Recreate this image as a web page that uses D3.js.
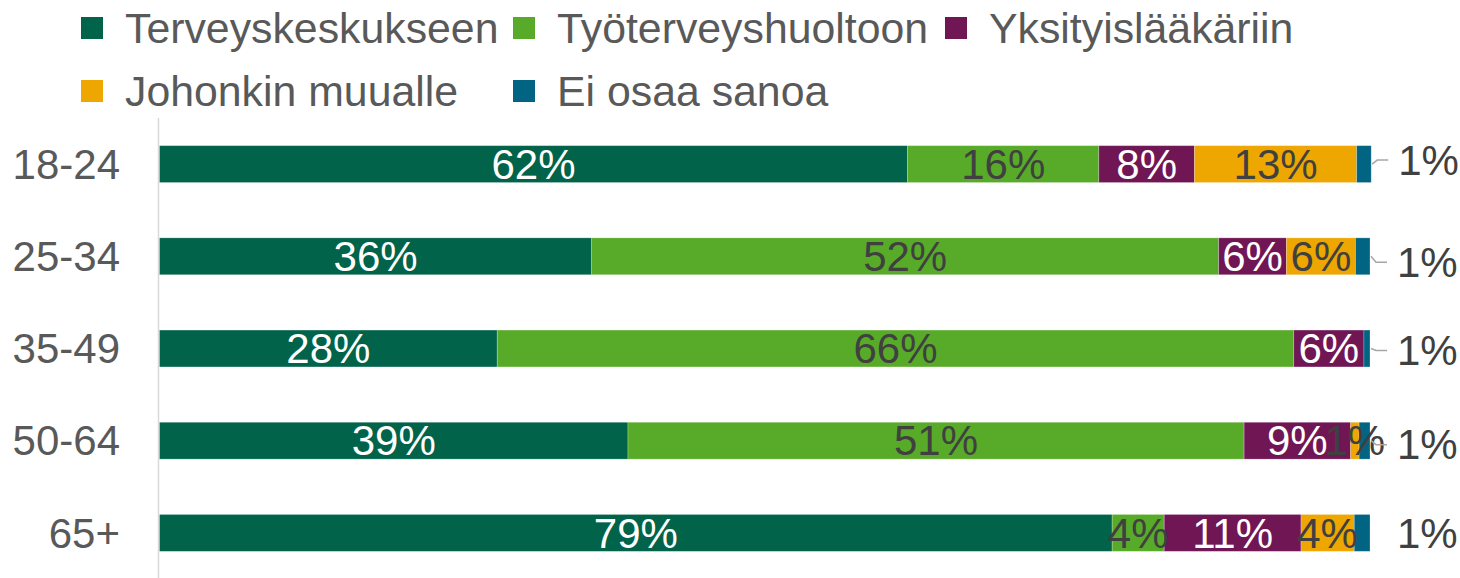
<!DOCTYPE html>
<html>
<head>
<meta charset="utf-8">
<script src="https://cdn.jsdelivr.net/npm/d3@7"></script>
<style>
  html, body { margin: 0; padding: 0; background: #fff; }
  svg { display: block; font-family: "Liberation Sans", Arial, sans-serif; }
</style>
</head>
<body>
<div id="chart"></div>
<script>
// categories (age groups) and series
const ageGroups = ["18-24", "25-34", "35-49", "50-64", "65+"];
const seriesNames = ["Terveyskeskukseen", "Työterveyshuoltoon", "Yksityislääkäriin", "Johonkin muualle", "Ei osaa sanoa"];

// shares in %, one array per series, in ageGroups order
const terveyskeskus = [61.8, 35.7, 27.9, 38.7, 78.7];
const tyoterveys    = [15.8, 51.8, 65.8, 50.9, 4.3];
const yksityinen    = [7.9, 5.6, 5.8, 8.8, 11.3];
const muualle       = [13.4, 5.7, 0, 0.7, 4.4];
const eiOsaa        = [1.2, 1.2, 0.5, 0.9, 1.3];

const colors = ["#00634a", "#58ab28", "#701655", "#eea600", "#006482"];
const labelColors = ["#fff", "#404040", "#fff", "#404040", "#404040"];

// build rows for d3.stack
const seriesValues = [terveyskeskus, tyoterveys, yksityinen, muualle, eiOsaa];
const rows = ageGroups.map((g, i) => {
  const r = { group: g };
  seriesNames.forEach((s, j) => { r[s] = seriesValues[j][i]; });
  return r;
});

const W = 1460, H = 578;
const fontSize = 42;
const textGray = "#595959";

const svg = d3.select("#chart").append("svg")
  .attr("width", W)
  .attr("height", H);

// scales
const x = d3.scaleLinear().domain([0, 100]).range([159.5, 1370]);
const y = d3.scaleBand()
  .domain(ageGroups)
  .range([118, 579])
  .paddingInner(0.6)
  .paddingOuter(0.3);

const stacked = d3.stack().keys(seriesNames)(rows);

// vertical axis line
svg.append("line")
  .attr("x1", 158.5).attr("x2", 158.5)
  .attr("y1", 118).attr("y2", H)
  .attr("stroke", "#d9d9d9")
  .attr("stroke-width", 1.5);

// category labels
svg.selectAll(".cat")
  .data(ageGroups)
  .enter()
  .append("text")
  .attr("class", "cat")
  .attr("x", 120)
  .attr("y", d => y(d) + y.bandwidth() / 2)
  .attr("dy", "0.35em")
  .attr("text-anchor", "end")
  .attr("fill", textGray)
  .style("font-size", fontSize + "px")
  .text(d => d);

// bar segments
const layers = svg.selectAll(".layer")
  .data(stacked)
  .enter()
  .append("g")
  .attr("class", "layer")
  .attr("fill", (d, i) => colors[i]);

layers.selectAll("rect")
  .data(d => d)
  .enter()
  .append("rect")
  .attr("x", d => x(d[0]))
  .attr("y", d => y(d.data.group))
  .attr("width", d => x(d[1]) - x(d[0]))
  .attr("height", y.bandwidth())
  .attr("stroke", "#fff")
  .attr("stroke-opacity", 0.3)
  .attr("stroke-width", 0.8);

// labels inside bars (all series except the last)
stacked.slice(0, 4).forEach((layer, i) => {
  svg.append("g")
    .selectAll("text")
    .data(layer.filter(d => d[1] - d[0] > 0))
    .enter()
    .append("text")
    .attr("x", d => (x(d[0]) + x(d[1])) / 2)
    .attr("y", d => y(d.data.group) + y.bandwidth() / 2)
    .attr("dy", "0.35em")
    .attr("text-anchor", "middle")
    .attr("fill", labelColors[i])
    .style("font-size", fontSize + "px")
    .text(d => Math.round(d[1] - d[0]) + "%");
});

// "Ei osaa sanoa" labels outside the bars with leader lines
const labelShift = [-4, 6, 2, 4, 0];
const last = stacked[4];

svg.append("g")
  .selectAll("path")
  .data(last.filter((d, i) => labelShift[i] !== 0))
  .enter()
  .append("path")
  .attr("d", d => {
    const i = ageGroups.indexOf(d.data.group);
    const cy = y(d.data.group) + y.bandwidth() / 2;
    const x0 = x(d[1]) + 1;
    return `M${x0},${cy}L${x0 + 5},${cy + labelShift[i]}L${x0 + 16},${cy + labelShift[i]}`;
  })
  .attr("fill", "none")
  .attr("stroke", "#a6a6a6")
  .attr("stroke-width", 1.5);

svg.append("g")
  .selectAll("text")
  .data(last)
  .enter()
  .append("text")
  .attr("x", d => x(d[1]) + 27)
  .attr("y", (d, i) => y(d.data.group) + y.bandwidth() / 2 + labelShift[i])
  .attr("dy", "0.35em")
  .attr("fill", "#404040")
  .style("font-size", fontSize + "px")
  .text(d => Math.round(d[1] - d[0]) + "%");

// legend: 3 columns, 2 rows
const legend = svg.append("g")
  .selectAll("g")
  .data(seriesNames)
  .enter()
  .append("g")
  .attr("transform", (d, i) => `translate(${81 + (i % 3) * 432},${28 + Math.floor(i / 3) * 63})`);

legend.append("rect")
  .attr("x", 0)
  .attr("y", -11)
  .attr("width", 22)
  .attr("height", 22)
  .attr("fill", (d, i) => colors[i]);

legend.append("text")
  .attr("x", 44)
  .attr("y", 0)
  .attr("dy", "0.35em")
  .attr("fill", textGray)
  .style("font-size", "42.8px")
  .text(d => d);
</script>
</body>
</html>
